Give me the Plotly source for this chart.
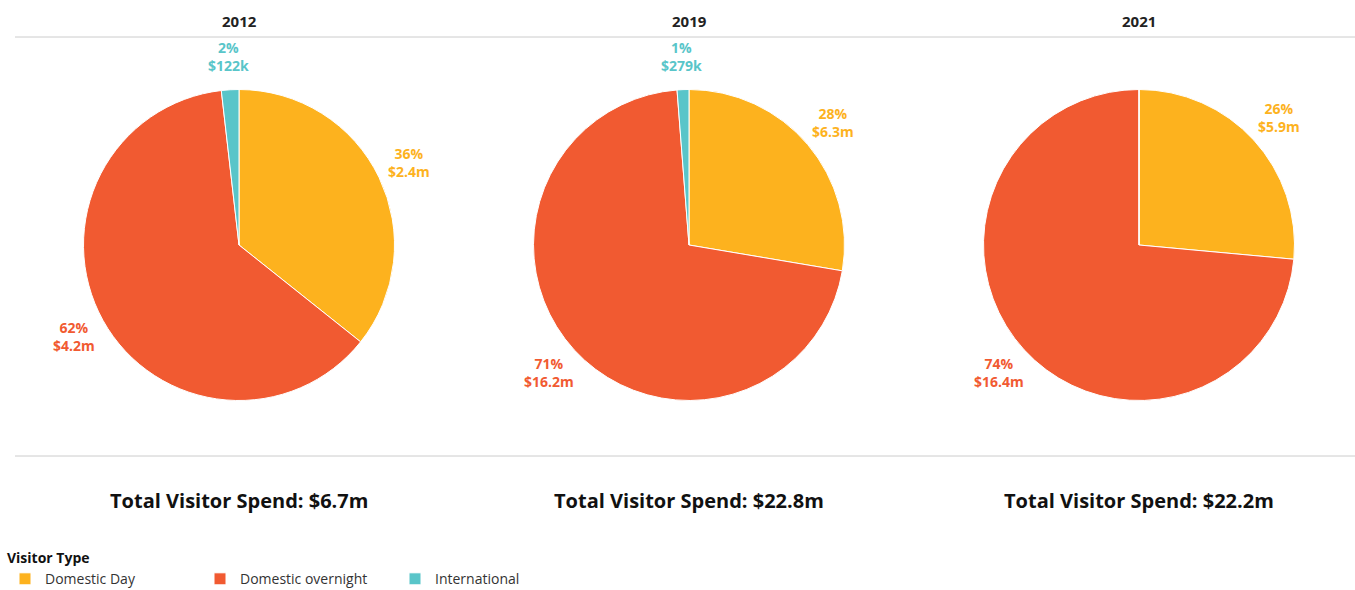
import math
import plotly.graph_objects as go

years = ["2012", "2019", "2021"]
categories = ["Domestic Day", "Domestic overnight", "International"]
colors = ["#FDB21E", "#F15A31", "#59C5C9"]

values_2012 = [2.4, 4.2, 0.122]
values_2019 = [6.3, 16.2, 0.279]
values_2021 = [5.9, 16.4, 0.0]

pct_2012 = ["36%", "62%", "2%"]
pct_2019 = ["28%", "71%", "1%"]
pct_2021 = ["26%", "74%", ""]

amt_2012 = ["$2.4m", "$4.2m", "$122k"]
amt_2019 = ["$6.3m", "$16.2m", "$279k"]
amt_2021 = ["$5.9m", "$16.4m", ""]

totals = ["$6.7m", "$22.8m", "$22.2m"]

all_values = [values_2012, values_2019, values_2021]
all_pct = [pct_2012, pct_2019, pct_2021]
all_amt = [amt_2012, amt_2019, amt_2021]

W, H = 1355, 590
centers_px = [239, 689, 1139]
cy_px = 245
r_px = 155
dom_half = 155.5
label_dist = 34

fig = go.Figure()
for i, yr in enumerate(years):
    cx = centers_px[i]
    vals = all_values[i]
    fig.add_trace(go.Pie(
        labels=categories,
        values=vals,
        textinfo="none",
        marker=dict(colors=colors, line=dict(color="white", width=1)),
        sort=False,
        direction="clockwise",
        rotation=0,
        hoverinfo="label+value+percent",
        showlegend=(i == 0),
        domain=dict(x=[(cx - dom_half) / W, (cx + dom_half) / W],
                    y=[1 - (cy_px + dom_half) / H, 1 - (cy_px - dom_half) / H]),
    ))
    # data labels placed along each slice's mid-angle
    tot = sum(vals)
    cum = 0.0
    for j, v in enumerate(vals):
        if v <= 0:
            continue
        mid = (cum + v / 2) / tot * 2 * math.pi
        cum += v
        lx = cx + (r_px + label_dist) * math.sin(mid)
        ly = cy_px - (r_px + label_dist) * math.cos(mid)
        fig.add_annotation(x=lx / W, y=1 - ly / H, xref="paper", yref="paper",
                           text=f"<b>{all_pct[i][j]}<br>{all_amt[i][j]}</b>",
                           showarrow=False, xanchor="center", yanchor="middle",
                           font=dict(size=14, color=colors[j], family="Open Sans"))
    fig.add_annotation(x=cx / W, y=1 - 21 / H, xref="paper", yref="paper",
                       text=f"<b>{yr}</b>", showarrow=False,
                       xanchor="center", yanchor="middle",
                       font=dict(size=15, color="#222", family="Open Sans"))
    fig.add_annotation(x=cx / W, y=1 - 500 / H, xref="paper", yref="paper",
                       text=f"<b>Total Visitor Spend: {totals[i]}</b>", showarrow=False,
                       xanchor="center", yanchor="middle",
                       font=dict(size=20, color="#111", family="Open Sans"))

for ypx in [37, 456]:
    fig.add_shape(type="line", xref="paper", yref="paper",
                  x0=15 / W, x1=1, y0=1 - ypx / H, y1=1 - ypx / H,
                  line=dict(color="#cccccc", width=1))

fig.update_layout(
    width=W, height=H,
    margin=dict(l=0, r=0, t=0, b=0, autoexpand=False),
    paper_bgcolor="white",
    plot_bgcolor="white",
    font=dict(family="Open Sans", color="#333"),
    legend=dict(
        orientation="h",
        x=5 / W, y=1 - 545 / H, xanchor="left", yanchor="top",
        title=dict(text="<b>Visitor Type</b>", side="top", font=dict(size=14, color="#111")),
        font=dict(size=14, color="#333"),
        entrywidth=150, entrywidthmode="pixels",
        itemclick=False, itemdoubleclick=False,
        tracegroupgap=0,
    ),
)

fig.write_html("out.html", config={"displayModeBar": False},
               post_script="document.body.style.margin='0';document.body.style.overflow='hidden';")
